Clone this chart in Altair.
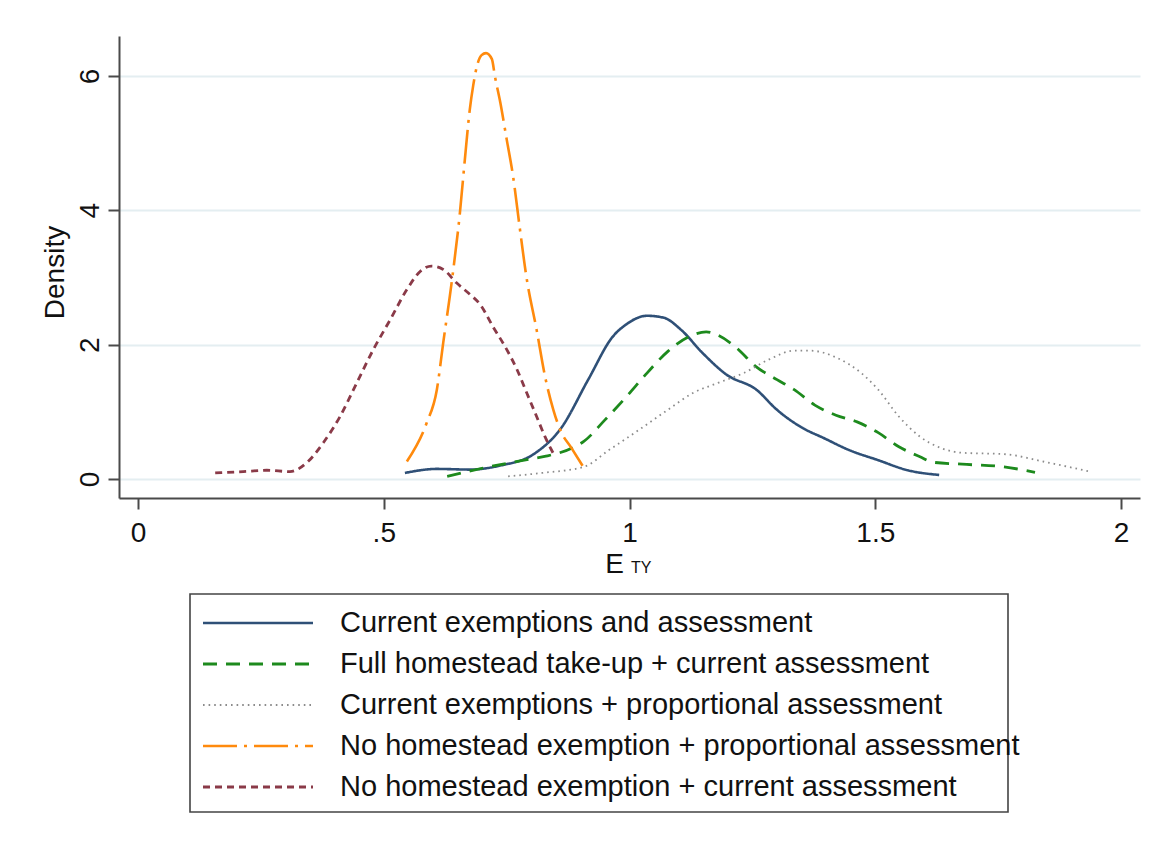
import altair as alt
import pandas as pd

# ---------------- data ----------------
series_names = [
    "Current exemptions and assessment",
    "Full homestead take-up + current assessment",
    "Current exemptions + proportional assessment",
    "No homestead exemption + proportional assessment",
    "No homestead exemption + current assessment",
]

blue_x = [0.543, 0.608, 0.675, 0.737, 0.805, 0.861, 0.916, 0.966, 0.993, 1.036, 1.07, 1.105,
          1.148, 1.198, 1.258, 1.30, 1.352, 1.395, 1.447, 1.506, 1.566, 1.630]
blue_y = [0.09, 0.15, 0.14, 0.20, 0.37, 0.76, 1.48, 2.12, 2.30, 2.43, 2.40, 2.22,
          1.88, 1.55, 1.33, 1.03, 0.76, 0.61, 0.43, 0.28, 0.13, 0.06]

green_x = [0.629, 0.70, 0.80, 0.83, 0.886, 0.907, 0.95, 0.993, 1.036, 1.078, 1.121, 1.156, 1.177,
           1.215, 1.258, 1.30, 1.335, 1.377, 1.42, 1.463, 1.506, 1.548, 1.591, 1.617, 1.677,
           1.762, 1.825]
green_y = [0.04, 0.16, 0.30, 0.34, 0.47, 0.56, 0.88, 1.22, 1.58, 1.90, 2.12, 2.19, 2.15,
           1.97, 1.67, 1.48, 1.33, 1.10, 0.95, 0.85, 0.69, 0.48, 0.33, 0.25, 0.22,
           0.18, 0.10]

grey_x = [0.753, 0.822, 0.907, 0.958, 1.019, 1.078, 1.129, 1.18, 1.233, 1.284, 1.335, 1.369,
          1.42, 1.471, 1.506, 1.548, 1.591, 1.634, 1.677, 1.762, 1.848, 1.937]
grey_y = [0.04, 0.09, 0.18, 0.43, 0.73, 1.03, 1.28, 1.43, 1.58, 1.78, 1.91, 1.91,
          1.81, 1.58, 1.33, 0.93, 0.63, 0.46, 0.39, 0.37, 0.25, 0.11]

orange_x = [0.547, 0.587, 0.608, 0.621, 0.638, 0.655, 0.665, 0.675, 0.682, 0.689, 0.699, 0.708,
            0.72, 0.726, 0.737, 0.75, 0.763, 0.777, 0.79, 0.811, 0.828, 0.845, 0.859, 0.882, 0.906]
orange_y = [0.26, 0.83, 1.33, 2.03, 2.92, 3.97, 4.76, 5.5, 5.86, 6.13, 6.31, 6.34,
            6.25, 6.0, 5.61, 5.06, 4.51, 3.72, 3.02, 2.22, 1.53, 1.03, 0.73, 0.46, 0.18]

maroon_x = [0.157, 0.214, 0.262, 0.309, 0.343, 0.377, 0.411, 0.445, 0.479, 0.513, 0.547, 0.574,
            0.597, 0.621, 0.648, 0.675, 0.696, 0.722, 0.75, 0.771, 0.791, 0.811, 0.828, 0.845]
maroon_y = [0.09, 0.11, 0.13, 0.11, 0.24, 0.54, 0.93, 1.43, 1.93, 2.37, 2.82, 3.09,
            3.17, 3.12, 2.92, 2.75, 2.60, 2.27, 1.93, 1.63, 1.28, 0.93, 0.63, 0.38]

x_ticks = [0, 0.5, 1, 1.5, 2]
x_tick_labels = ["0", ".5", "1", "1.5", "2"]
y_ticks = [0, 2, 4, 6]

# ---------------- styles ----------------
colors = ["#2f5077", "#1d8a1d", "#8c8c8c", "#ff8a0d", "#8a3a48"]
dashes = [[1, 0], [14, 9], [1.6, 4], [34, 7, 3, 7], [7, 5]]
widths = [2.6, 2.8, 1.8, 2.6, 2.8]

FONT = "Liberation Sans"
W, H = 1021, 462

xs = [blue_x, green_x, grey_x, orange_x, maroon_x]
ys = [blue_y, green_y, grey_y, orange_y, maroon_y]
rows = []
for name, xx, yy in zip(series_names, xs, ys):
    for a, b in zip(xx, yy):
        rows.append({"series": name, "x": a, "y": b})
df = pd.DataFrame(rows)

label_expr = " : ".join(
    f"datum.value == {v} ? '{t}'" for v, t in zip(x_ticks, x_tick_labels)
) + " : datum.label"

xscale = alt.Scale(domain=[-0.0387, 2.0386], nice=False, zero=False)
yscale = alt.Scale(domain=[-0.283, 6.595], nice=False, zero=False)

layers = []
for i, name in enumerate(series_names):
    ln = (
        alt.Chart(df)
        .transform_filter(alt.datum.series == name)
        .mark_line(color=colors[i], strokeDash=dashes[i], strokeWidth=widths[i],
                   interpolate="monotone", strokeCap="butt", clip=False)
        .encode(
            x=alt.X("x:Q", scale=xscale,
                    axis=alt.Axis(values=x_ticks, title="E", labelExpr=label_expr)),
            y=alt.Y("y:Q", scale=yscale,
                    axis=alt.Axis(values=y_ticks, title="Density", grid=True)),
        )
    )
    layers.append(ln)

main = alt.layer(*layers)

# subscript "TY" of the x title
sub = alt.Chart(pd.DataFrame({"t": ["TY"]})).mark_text(
    align="left", baseline="alphabetic", fontSize=16, font=FONT, color="#111"
).encode(x=alt.value(512), y=alt.value(537), text="t:N")

# legend drawn as its own layer
leg_df = pd.DataFrame({"series": series_names})
leg_y = alt.Y("series:N", scale=alt.Scale(type="point", domain=series_names,
                                          range=[587, 751], padding=0), axis=None)
box = alt.Chart(pd.DataFrame({"a": [0]})).mark_rect(
    fill="white", stroke="#444444", strokeWidth=1.6
).encode(x=alt.value(71), x2=alt.value(889), y=alt.value(558), y2=alt.value(776))

leg_lines = []
for i, name in enumerate(series_names):
    leg_lines.append(
        alt.Chart(leg_df).transform_filter(alt.datum.series == name)
        .mark_rule(color=colors[i], strokeDash=dashes[i], strokeWidth=widths[i], strokeCap="butt")
        .encode(x=alt.value(84), x2=alt.value(194), y=leg_y)
    )
leg_text = alt.Chart(leg_df).mark_text(
    align="left", baseline="middle", fontSize=29, font=FONT, color="#111"
).encode(x=alt.value(221), y=leg_y, text="series:N")

legend = alt.layer(box, *leg_lines, leg_text)

chart = (
    alt.layer(main, sub, legend)
    .resolve_scale(y="independent")
    .properties(width=W, height=H, autosize=alt.AutoSizeParams(type="none"),
                padding={"left": 119, "top": 36, "right": 23, "bottom": 352},
                background="white")
    .configure_view(stroke=None)
    .configure_axis(
        domainColor="#4a4a4a", domainWidth=2, tickColor="#4a4a4a", tickWidth=2, tickSize=11,
        labelFont=FONT, labelFontSize=28, labelColor="#111",
        titleFont=FONT, titleFontSize=28, titleFontWeight="normal", titleColor="#111",
        gridColor="#e4eef1", gridWidth=2,
    )
    .configure_axisX(grid=False, labelPadding=10, labelBaseline="top",
                     titleX=495, titleY=74, titleAlign="center", titleBaseline="alphabetic")
    .configure_axisY(labelAngle=270, labelAlign="center", labelBaseline="alphabetic",
                     labelPadding=10, titleAngle=270, titleX=-56, titleY=236,
                     titleAlign="center", titleBaseline="alphabetic")
)

chart.save("out.html", embed_options={"renderer": "svg", "actions": False})
